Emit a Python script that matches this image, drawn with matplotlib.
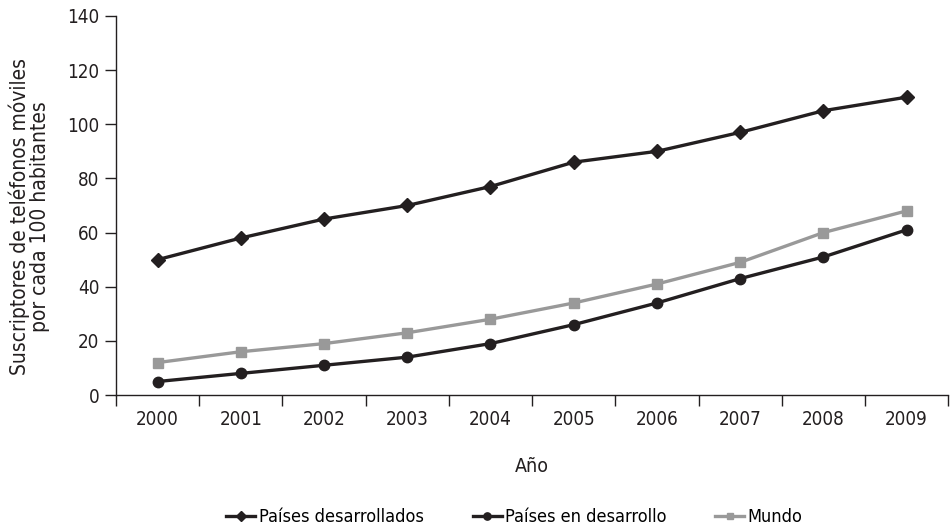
import matplotlib
matplotlib.use("Agg")
import matplotlib.pyplot as plt
from matplotlib import font_manager as fm
import numpy as np

# Data
years = ["2000", "2001", "2002", "2003", "2004", "2005", "2006", "2007", "2008", "2009"]
desarrollados = [50, 58, 65, 70, 77, 86, 90, 97, 105, 110]
en_desarrollo = [5, 8, 11, 14, 19, 26, 34, 43, 51, 61]
mundo = [12, 16, 19, 23, 28, 34, 41, 49, 60, 68]

# a condensed face if one is installed
narrow = [f for f in fm.fontManager.ttflist
          if ("Narrow" in f.name or "Condensed" in f.name or f.stretch in ("condensed", "semi-condensed"))
          and f.weight in (400, "normal", "regular") and f.style == "normal"]
family = narrow[0].name if narrow else "Liberation Sans"
plt.rcParams["font.family"] = [family, "DejaVu Sans"]
if narrow:
    plt.rcParams["font.stretch"] = narrow[0].stretch

BLACK = "#231f20"
GREY = "#999999"

fig = plt.figure(figsize=(9.5, 5.31), dpi=100)
ax = fig.add_axes([0.1221, 0.256, 0.876, 0.714])

x = np.arange(len(years))
ax.plot(x, desarrollados, color=BLACK, lw=2.4, marker="D", ms=7, label="Países desarrollados")
ax.plot(x, en_desarrollo, color=BLACK, lw=2.4, marker="o", ms=7.5, label="Países en desarrollo")
ax.plot(x, mundo, color=GREY, lw=2.4, marker="s", ms=6.5, label="Mundo")

ax.set_xlim(-0.5, len(years) - 0.5)
ax.set_ylim(0, 140)
ax.set_yticks(range(0, 141, 20))
ax.set_xticks(x)
ax.set_xticklabels(years)
ax.set_xticks(np.arange(-0.5, len(years), 1), minor=True)
ax.tick_params(axis="x", which="major", length=0, pad=11, labelsize=13.5, colors=BLACK)
ax.tick_params(axis="x", which="minor", length=8, width=1, direction="out", color=BLACK)
ax.tick_params(axis="y", length=8, width=1, direction="out", labelsize=13.5, colors=BLACK, pad=4)

for s in ["top", "right"]:
    ax.spines[s].set_visible(False)
for s in ["left", "bottom"]:
    ax.spines[s].set_color(BLACK)
    ax.spines[s].set_linewidth(1)

ax.set_ylabel("Suscriptores de teléfonos móviles\npor cada 100 habitantes", fontsize=15,
              color=BLACK, linespacing=1.0)
ax.yaxis.set_label_coords(-0.079, 0.47)
ax.set_xlabel("Año", fontsize=14, color=BLACK, labelpad=20)

ax.legend(loc="center", bbox_to_anchor=(0.479, -0.322), ncol=3, frameon=False,
          fontsize=13, handlelength=1.6, handletextpad=0.2, columnspacing=2.7,
          markerscale=0.7)

fig.savefig("out.png", dpi=100)
